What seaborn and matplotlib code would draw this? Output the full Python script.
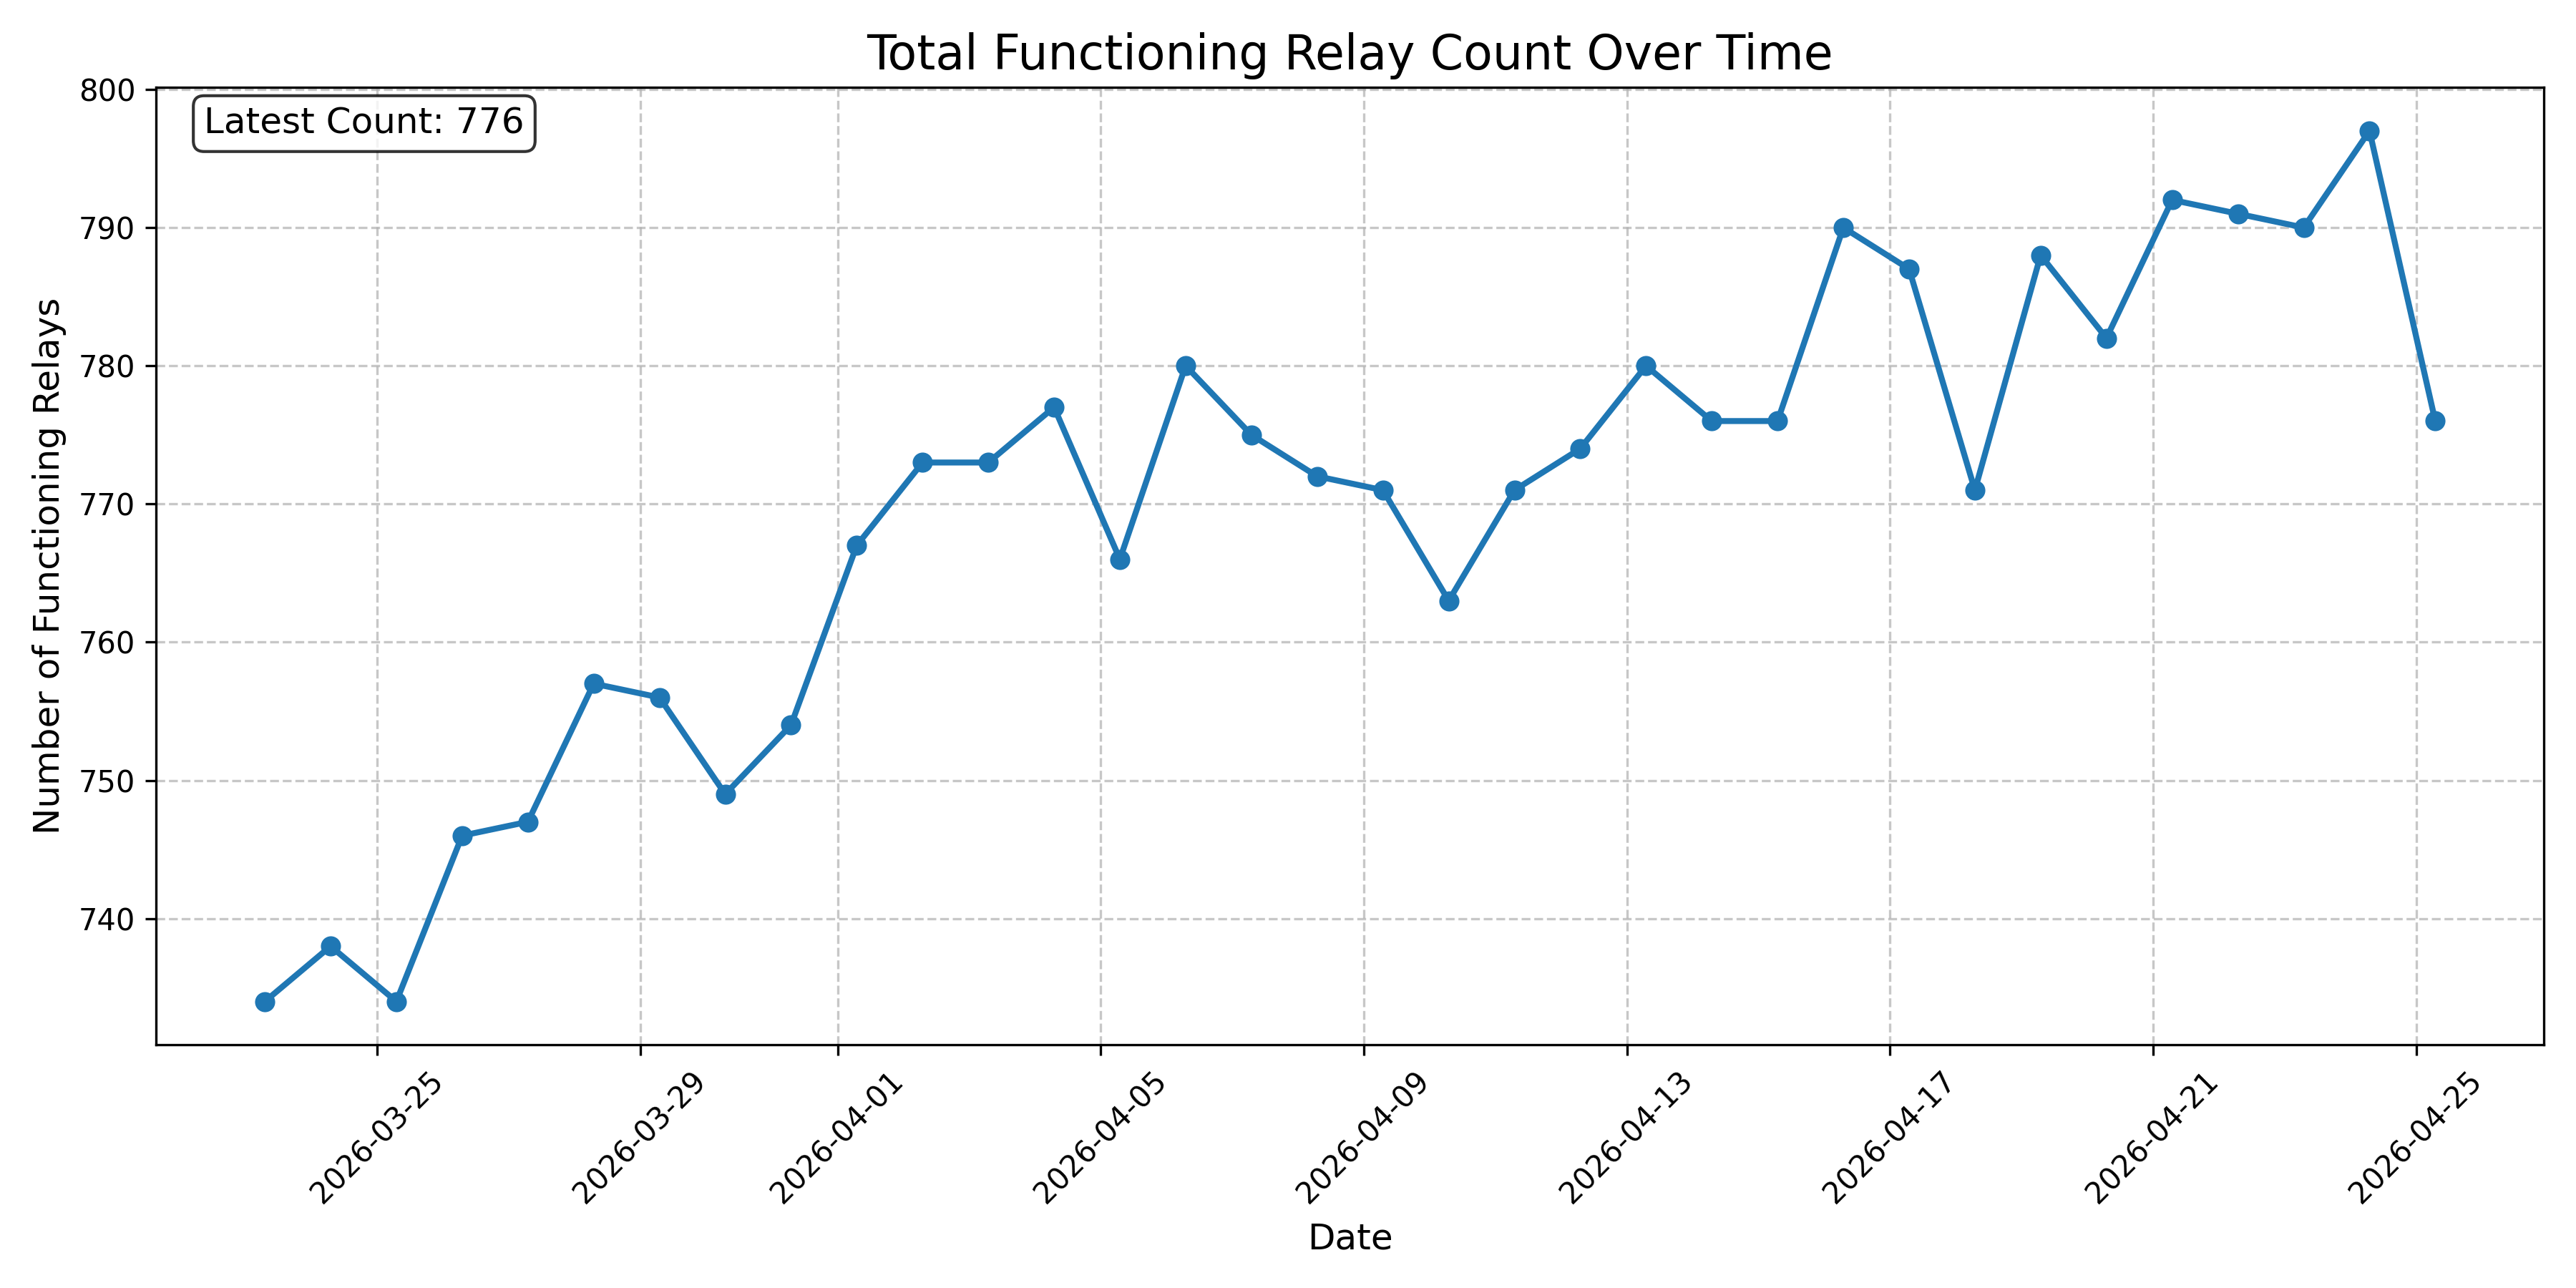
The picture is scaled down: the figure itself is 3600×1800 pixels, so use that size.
import matplotlib
matplotlib.use("Agg")
import matplotlib.pyplot as plt
import matplotlib.dates as mdates
import pandas as pd
import seaborn as sns

dates = pd.date_range("2026-03-23 07:00", "2026-04-25 07:00", freq="D")
counts = [734, 738, 734, 746, 747, 757, 756, 749, 754, 767,
          773, 773, 777, 766, 780, 775, 772, 771, 763, 771,
          774, 780, 776, 776, 790, 787, 771, 788, 782, 792,
          791, 790, 797, 776]

df = pd.DataFrame({"date": dates, "count": counts})

fig, ax = plt.subplots(figsize=(12, 6), dpi=300)
sns.lineplot(data=df, x="date", y="count", ax=ax, marker="o", linewidth=2,
             markersize=6, color="#1f77b4", markeredgecolor="#1f77b4")
ax.set_title("Total Functioning Relay Count Over Time", fontsize=16)
ax.set_xlabel("Date", fontsize=12)
ax.set_ylabel("Number of Functioning Relays", fontsize=12)
ax.grid(True, linestyle="--", alpha=0.7)
ax.xaxis.set_major_formatter(mdates.DateFormatter("%Y-%m-%d"))
plt.setp(ax.get_xticklabels(), rotation=45)
ax.text(0.02, 0.98, f"Latest Count: {counts[-1]}", transform=ax.transAxes,
        fontsize=12, va="top",
        bbox=dict(boxstyle="round", facecolor="white", alpha=0.8))
fig.tight_layout()
fig.savefig("out.png", dpi=300)
